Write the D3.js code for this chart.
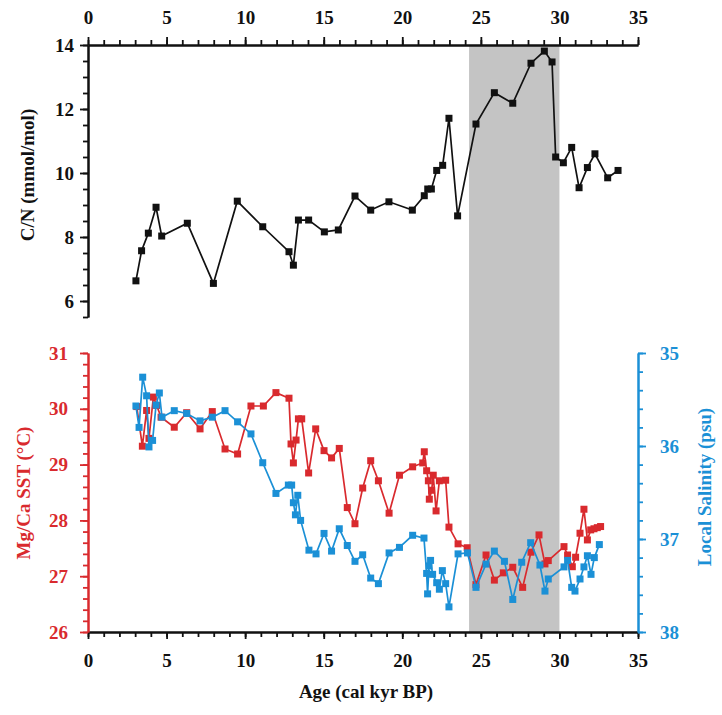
<!DOCTYPE html>
<html><head><meta charset="utf-8">
<script src="https://cdn.jsdelivr.net/npm/d3@7"></script>
<style>
body{margin:0;background:#fff}
text{font-family:"Liberation Serif","Times New Roman",serif;font-weight:bold}
</style></head>
<body><svg id="c" width="722" height="715"></svg>
<script>
// ---- data ----
const cnAge = [3.05,3.41,3.84,4.33,4.69,6.32,7.98,9.5,11.12,12.79,13.07,13.39,14.04,15.04,15.93,16.99,17.99,19.15,20.64,21.4,21.62,21.85,22.19,22.57,22.97,23.52,24.69,25.86,27.03,28.19,29.04,29.53,29.76,30.25,30.78,31.25,31.78,32.26,33.07,33.73];
const cnVal = [6.63,7.57,8.12,8.93,8.03,8.43,6.55,9.12,8.32,7.54,7.12,8.53,8.53,8.16,8.22,9.28,8.84,9.1,8.84,9.29,9.5,9.5,10.08,10.24,11.71,8.66,11.53,12.51,12.18,13.43,13.81,13.47,10.5,10.32,10.8,9.54,10.17,10.6,9.85,10.08];

const sstAge = [3.1,3.46,3.73,3.88,4.16,4.37,4.65,5.49,6.28,7.13,7.91,8.72,9.52,10.37,11.16,11.96,12.79,12.92,13.07,13.24,13.39,13.6,14.04,14.49,15.02,15.5,15.99,16.5,16.99,17.48,17.99,18.48,19.16,19.82,20.66,21.3,21.4,21.55,21.66,21.72,21.87,21.97,22.15,22.36,22.76,22.97,23.55,24.13,24.69,25.33,25.86,26.43,27.03,27.66,28.19,28.7,29.08,29.29,30.29,30.52,30.82,31.03,31.31,31.56,31.78,31.99,32.2,32.41,32.62];
const sstVal = [30.04,29.33,29.97,29.47,30.21,30.06,29.85,29.67,29.93,29.64,29.95,29.28,29.19,30.05,30.05,30.29,30.19,29.37,29.03,29.44,29.82,29.82,28.85,29.64,29.25,29.12,29.29,28.23,27.94,28.58,29.07,28.71,28.13,28.81,28.96,29.03,29.23,28.89,28.71,28.38,28.54,28.81,28.17,28.71,28.72,27.88,27.58,27.51,26.85,27.38,26.93,27.06,27.16,26.8,27.43,27.74,27.22,27.28,27.53,27.38,27.17,27.34,27.77,28.2,27.65,27.83,27.85,27.87,27.89];

const salAge = [3.05,3.25,3.48,3.73,3.88,4.11,4.33,4.54,4.71,5.49,6.28,7.13,7.91,8.72,9.52,10.37,11.12,11.96,12.75,12.96,13.07,13.2,13.35,13.53,14.06,14.51,15.02,15.5,15.99,16.5,16.99,17.48,17.99,18.48,19.16,19.82,20.66,21.38,21.55,21.61,21.7,21.8,21.93,22.19,22.36,22.55,22.76,22.97,23.55,24.15,24.69,25.33,25.86,26.5,27.03,27.6,28.17,28.76,29.08,29.29,30.29,30.52,30.78,30.99,31.31,31.56,31.78,32.01,32.22,32.54];
const salVal = [35.57,35.8,35.26,35.46,36.01,35.94,35.56,35.43,35.69,35.62,35.65,35.73,35.69,35.62,35.74,35.87,36.18,36.51,36.42,36.42,36.61,36.74,36.53,36.8,37.12,37.16,36.94,37.13,36.89,37.07,37.24,37.17,37.42,37.48,37.15,37.09,36.96,36.99,37.37,37.59,37.29,37.23,37.38,37.47,37.54,37.34,37.48,37.73,37.16,37.15,37.52,37.27,37.13,37.24,37.65,37.25,37.04,37.28,37.56,37.43,37.3,37.23,37.52,37.56,37.43,37.3,37.18,37.38,37.2,37.06];

const band = [24.25, 30.0];
const ageTicks = [0,5,10,15,20,25,30,35];
const cnTicks = [6,8,10,12,14];
const sstTicks = [26,27,28,29,30,31];
const salTicks = [35,36,37,38];

// ---- styles ----
const RED = "#d92a2e", BLUE = "#1b90d6", BLACK = "#111";
const FS = 19;

const svg = d3.select("#c");
const x = d3.scaleLinear([0,35],[88,638]);
const yCN = d3.scaleLinear([5.5,14],[317,45]);
const ySST = d3.scaleLinear([26,31],[632,353]);
const ySal = d3.scaleLinear([35,38],[353,632]);

// band
svg.append("rect").attr("x", x(band[0])).attr("y", 45)
  .attr("width", x(band[1]) - x(band[0])).attr("height", 632 - 45)
  .attr("fill", "#c4c4c4");

function styleAxis(g, color, pad){
  g.selectAll("path.domain").attr("stroke", color).attr("stroke-width", 2);
  g.selectAll(".tick line").attr("stroke", color).attr("stroke-width", 1.8);
  g.selectAll(".tick text").attr("fill", color).style("font-size", FS+"px")
    .style("font-family",'"Liberation Serif","Times New Roman",serif').style("font-weight","bold");
}
function addAxis(axisFn, scale, tf, major, minor, majorLen, minorLen, pad, color){
  const gm = svg.append("g").attr("transform", tf)
    .call(axisFn(scale).tickValues(minor).tickSize(minorLen).tickSizeOuter(0).tickFormat(""));
  styleAxis(gm, color);
  const g = svg.append("g").attr("transform", tf)
    .call(axisFn(scale).tickValues(major).tickSize(majorLen).tickSizeOuter(0).tickPadding(pad).tickFormat(d3.format("d")));
  styleAxis(g, color);
  return g;
}
const range = (a,b,s)=>d3.range(Math.round(a/s), Math.round(b/s)+1).map(i=>+(i*s).toFixed(4));

// top panel axes
addAxis(d3.axisTop, x, "translate(0,45)", ageTicks, range(0,35,1), 8, 5, 13, BLACK);
addAxis(d3.axisLeft, yCN, "translate(88,0)", cnTicks, range(5.5,14,0.5), 8, 5, 6, BLACK);

// bottom panel axes
addAxis(d3.axisBottom, x, "translate(0,632)", ageTicks, range(0,35,1), 7, 5, 15, BLACK);
addAxis(d3.axisLeft, ySST, "translate(88,0)", sstTicks, range(26,31,0.2), 8, 5, 12, RED);
addAxis(d3.axisRight, ySal, "translate(638,0)", salTicks, range(35,38,0.2), 8, 5, 14, BLUE);

// series
function series(ages, vals, ys, color, sz){
  const pts = ages.map((a,i)=>[a, vals[i]]);
  svg.append("path").datum(pts)
    .attr("d", d3.line().x(d=>x(d[0])).y(d=>ys(d[1])))
    .attr("fill","none").attr("stroke", color).attr("stroke-width", 1.7);
  svg.append("g").selectAll("rect").data(pts).join("rect")
    .attr("x", d=>x(d[0]) - sz/2).attr("y", d=>ys(d[1]) - sz/2)
    .attr("width", sz).attr("height", sz).attr("fill", color);
}
series(cnAge, cnVal, yCN, BLACK, 7);
series(sstAge, sstVal, ySST, RED, 7);
series(salAge, salVal, ySal, BLUE, 7);

// titles
svg.append("text").attr("transform","translate(34,175) rotate(-90)")
  .attr("text-anchor","middle").style("font-size",FS+"px").attr("fill",BLACK).text("C/N (mmol/mol)");
svg.append("text").attr("transform","translate(30,493) rotate(-90)")
  .attr("text-anchor","middle").style("font-size",FS+"px").attr("fill",RED).text("Mg/Ca SST (°C)");
svg.append("text").attr("transform","translate(711,487) rotate(-90)")
  .attr("text-anchor","middle").style("font-size",FS+"px").attr("fill",BLUE).text("Local Salinity (psu)");
svg.append("text").attr("x",366).attr("y",698)
  .attr("text-anchor","middle").style("font-size",FS+"px").attr("fill",BLACK).text("Age (cal kyr BP)");
</script></body></html>
